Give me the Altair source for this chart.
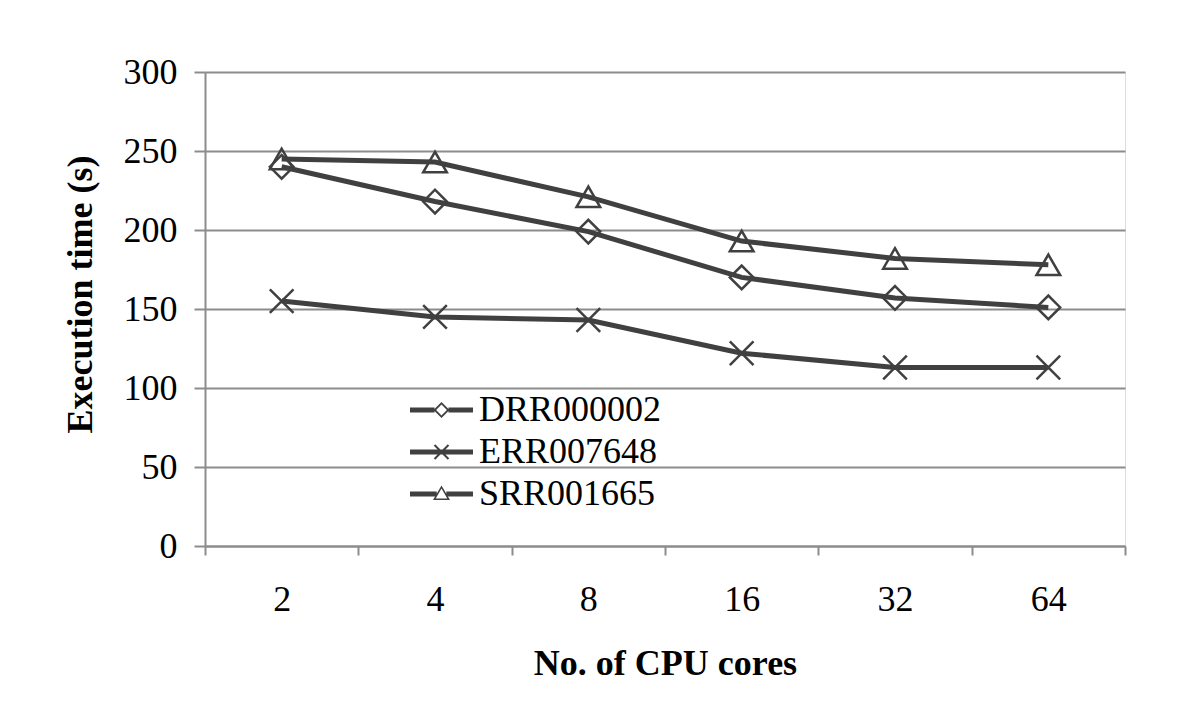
import altair as alt
import pandas as pd
import math

cores = ["2", "4", "8", "16", "32", "64"]
series = ["DRR000002", "ERR007648", "SRR001665"]
drr = [240, 218, 199, 170, 157, 151]
err = [155, 145, 143, 122, 113, 113]
srr = [245, 243, 221, 193, 182, 178]

rows = []
for name, vals in zip(series, [drr, err, srr]):
    for c, v in zip(cores, vals):
        rows.append({"cores": c, "series": name, "time": v})
df = pd.DataFrame(rows)

DARK = "#404040"
GRAY = "#8c8c8c"
FONT = "Liberation Serif"
FS = 36

# ---- legend symbol paths (line + outlined marker), in px then normalised ----
S = 31.5  # half width in px


def orient(pts, cw=True):
    a = 0
    for i in range(len(pts)):
        x1, y1 = pts[i]
        x2, y2 = pts[(i + 1) % len(pts)]
        a += x1 * y2 - x2 * y1
    if (a > 0) != cw:
        pts = pts[::-1]
    return pts


def poly(pts, cw=True):
    pts = orient(pts, cw)
    return "M" + "L".join(f"{x / S:.4f},{y / S:.4f}" for x, y in pts) + "Z"


def rect(x0, x1, h=2.5):
    return poly([(x0, -h), (x1, -h), (x1, h), (x0, h)])


def bar(p, q, t=1.0):
    (x1, y1), (x2, y2) = p, q
    dx, dy = x2 - x1, y2 - y1
    L = math.hypot(dx, dy)
    nx, ny = -dy / L * t, dx / L * t
    return poly([(x1 + nx, y1 + ny), (x2 + nx, y2 + ny), (x2 - nx, y2 - ny), (x1 - nx, y1 - ny)])


ro, ri = 8.0, 5.4
diamond_leg = (rect(-S, -7.0) + rect(7.0, S)
               + poly([(0, -ro), (ro, 0), (0, ro), (-ro, 0)], True)
               + poly([(0, -ri), (ri, 0), (0, ri), (-ri, 0)], False))
cross_leg = (rect(-S, S) + bar((-7, -7), (7, 7)) + bar((-7, 7), (7, -7)))
tri_out = [(0, -8.5), (8.5, 6), (-8.5, 6)]
cx, cy = 0, (-8.5 + 6 + 6) / 3
tri_in = [(cx + (x - cx) * 0.68, cy + (y - cy) * 0.68) for x, y in tri_out]
tri_leg = (rect(-S, -4.8) + rect(4.8, S) + poly(tri_out, True) + poly(tri_in, False))

legend_paths = [diamond_leg, cross_leg, tri_leg]
mark_shapes = ["diamond", "M-1,-1L1,1M-1,1L1,-1", "triangle-up"]

xenc = alt.X("cores:N", sort=cores,
             scale=alt.Scale(type="band", paddingInner=0, paddingOuter=0),
             axis=alt.Axis(title="No. of CPU cores", tickBand="extent", grid=False,
                           labelAngle=0, labelFont=FONT, labelFontSize=FS,
                           labelColor="black", labelBaseline="middle", labelPadding=44,
                           domainColor=GRAY, domainWidth=2, tickColor=GRAY,
                           tickWidth=2, tickSize=9,
                           titleFont=FONT, titleFontSize=FS, titleFontWeight="bold",
                           titleColor="black", titleBaseline="middle",
                           titleX=460, titleY=117))
yenc = alt.Y("time:Q", scale=alt.Scale(domain=[0, 300], nice=False),
             axis=alt.Axis(title="Execution time (s)", values=list(range(0, 301, 50)),
                           grid=True, gridColor=GRAY, gridWidth=2,
                           domainColor=GRAY, domainWidth=2, tickColor=GRAY,
                           tickWidth=2, tickSize=11, labelFont=FONT,
                           labelFontSize=FS, labelColor="black", labelPadding=17,
                           titleFont=FONT, titleFontSize=FS, titleFontWeight="bold",
                           titleColor="black", titleBaseline="middle",
                           titleAngle=-90, titleX=-125, titleY=222))

base = alt.Chart(df)

lines = base.mark_line(color=DARK, strokeWidth=5).encode(
    x=xenc, y=yenc, detail="series:N")

points = base.mark_point(filled=False, color=DARK, strokeWidth=2.5, size=560, opacity=1).encode(
    x=xenc, y=yenc,
    shape=alt.Shape("series:N", scale=alt.Scale(domain=series, range=mark_shapes), legend=None))

legend_layer = base.transform_filter("false").mark_point(
    filled=True, color=DARK, strokeWidth=0, size=3969, opacity=1).encode(
    x=xenc, y=yenc,
    shape=alt.Shape("series:N", scale=alt.Scale(domain=series, range=legend_paths),
                    legend=alt.Legend(title=None, orient="none", legendX=205, legendY=317,
                                      padding=0, symbolSize=3969, symbolFillColor=DARK,
                                      symbolStrokeWidth=0, symbolOpacity=1,
                                      labelFont=FONT, labelFontSize=FS, labelColor="black",
                                      labelOffset=6, rowPadding=0, clipHeight=42,
                                      labelLimit=400)))

chart = alt.layer(lines, points, legend_layer).resolve_scale(shape="independent").properties(
    width=920, height=474,
    autosize=alt.AutoSizeParams(type="none"),
    padding={"left": 197, "top": 64, "right": 60, "bottom": 150},
).configure_view(stroke=None).configure(background="white")

chart.save("out.html", embed_options={"renderer": "svg", "actions": False})
